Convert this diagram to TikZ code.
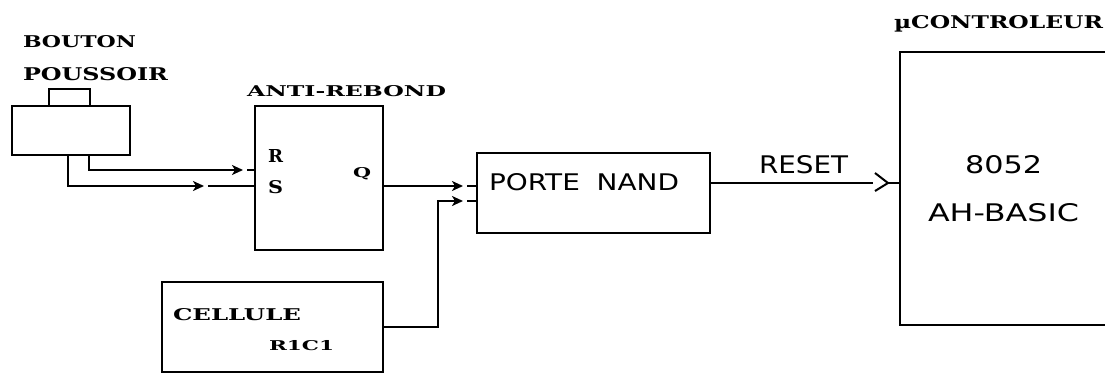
\documentclass[tikz,border=0pt]{standalone}
\usepackage{fontspec}
\setmainfont{DejaVu Serif}
\newfontfamily\plotfont{DejaVu Sans}
\usetikzlibrary{arrows.meta}
\newcommand{\fitt}[3]{\resizebox{#1pt}{#2pt}{#3}}
\begin{document}
\begin{tikzpicture}[x=1pt,y=-1pt, line width=2pt,
  box/.style={draw, inner sep=0pt, anchor=north west},
  lab/.style={inner sep=0pt, anchor=base west},
  tip/.style={-{Stealth[length=11pt,width=10pt,inset=3pt]}}]
\useasboundingbox[fill=white] (0,0) rectangle (1105,372);

% boxes
\node[box, minimum width=118pt, minimum height=49pt] (btn) at (11,105) {};
\node[box, minimum width=41pt, minimum height=17pt] (plg) at (48,88) {};
\node[box, minimum width=128pt, minimum height=144pt] (ar) at (254,105) {};
\node[box, minimum width=233pt, minimum height=80pt] (nand) at (476,152) {};
\node[box, minimum width=221pt, minimum height=90pt] (cel) at (161,281) {};
\node[inner sep=0pt, anchor=north west, minimum width=205pt, minimum height=271pt] (mc) at (900,52) {};
\draw (mc.north east) -- (mc.north west) -- (mc.south west) -- (mc.south east);

% helper coordinates
\coordinate (yR) at (0,170);
\coordinate (yS) at (0,186);
\coordinate (yN2) at (0,201);
\coordinate (yC) at (0,327);
\coordinate (yRS) at (0,183);
\coordinate (xR) at (89,0);
\coordinate (xS) at (68,0);
\coordinate (xC) at (438,0);
\coordinate (rtip) at (243,170);
\coordinate (rstub) at (247,170);
\coordinate (stip) at (204,186);
\coordinate (sstub) at (208,186);
\coordinate (qtip) at (463,186);
\coordinate (qstub) at (467,186);
\coordinate (ctip) at (463,201);
\coordinate (cstub) at (467,201);
\coordinate (rsend) at (873,183);
\coordinate (chvA) at (875,173);
\coordinate (chv) at (888,183);
\coordinate (chvB) at (875,191);

% connectors
\draw[tip] (btn.south -| xR) |- (rtip);
\draw (rstub) -- (ar.west |- yR);
\draw[tip] (btn.south -| xS) |- (stip);
\draw (sstub) -- (ar.west |- yS);
\draw[tip] (ar.east |- yS) -- (qtip);
\draw (qstub) -- (nand.west |- yS);
\draw[tip] (cel.east |- yC) -| (xC |- yN2) -- (ctip);
\draw (cstub) -- (nand.west |- yN2);
\draw (nand.east |- yRS) -- (rsend);
\draw (chvA) -- (chv) -- (chvB);
\draw (chv) -- (mc.west |- yRS);

% labels
\node[lab] (tBouton) at (22,47) {\fitt{113}{12}{\bfseries BOUTON}};
\node[lab] (tPous) at (22,80) {\fitt{145}{13}{\bfseries POUSSOIR}};
\node[lab] (tAR) at (246,96) {\fitt{199}{11}{\bfseries ANTI-REBOND}};
\node[lab] (tR) at (267,162) {\fitt{15}{13}{\bfseries R}};
\node[lab] (tS) at (267,193) {\fitt{15}{13}{\bfseries S}};
\node[lab] (tQ) at (352,177) {\fitt{18}{10}{\bfseries Q}};
\node[lab] (tMC) at (893,28) {\fitt{209}{13}{\bfseries µCONTROLEUR}};
\node[lab] (tCel) at (172,320) {\fitt{128}{12}{\bfseries CELLULE}};
\node[lab] (tRC) at (268,350) {\fitt{65}{10}{\bfseries R1C1}};
\node[lab] (tNand) at (488,190) {\fitt{190}{17}{\plotfont PORTE\hspace{0.6em}NAND}};
\node[lab] (tReset) at (758,173) {\fitt{89}{18}{\plotfont RESET}};
\node[lab] (t8052) at (964,173) {\fitt{77}{18}{\plotfont 8052}};
\node[lab] (tAH) at (927,221) {\fitt{151}{18}{\plotfont AH-BASIC}};
\end{tikzpicture}
\end{document}
